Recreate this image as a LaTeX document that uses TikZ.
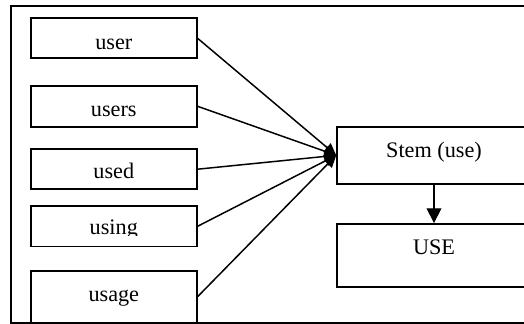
\documentclass[tikz,border=0pt]{standalone}
\usepackage{fontspec}
\setmainfont{Liberation Serif}
\usetikzlibrary{arrows.meta}

\begin{document}
\begin{tikzpicture}[x=0.54pt,y=-0.54pt,
    wordbox/.style={draw,line width=1pt,inner sep=0pt,minimum width=89.5pt},
    wordtext/.style={anchor=base,inner sep=0pt,font=\fontsize{12}{14}\selectfont},
    feed/.style={line width=0.8pt,-{Triangle[length=6.5pt,width=6pt]}}]
    \useasboundingbox (0,0) rectangle (524,324);
    % outer frame, open on the right
    \draw[line width=1pt] (524,5.7) -- (11,5.7) -- (11,322.7) -- (524,322.7);
    % word forms
    \node[wordbox,minimum height=21.6pt] (user) at (113.8,38.3) {};
    \node[wordbox,minimum height=22pt] (users) at (113.8,106.3) {};
    \node[wordbox,minimum height=21.8pt] (used) at (113.8,169.2) {};
    \node[wordbox,minimum height=21.8pt] (using) at (113.8,226.3) {};
    \node[wordbox,minimum height=28.1pt] (usage) at (113.8,296.7) {};
    \node[wordtext] (userlbl) at (113.8,49.3) {user};
    \node[wordtext] (userslbl) at (113.8,116.7) {users};
    \node[wordtext] (usedlbl) at (113.8,179) {used};
    \begin{scope}
        \clip (0,0) rectangle (524,235.5);
        \node[wordtext] (usinglbl) at (113.8,235) {using};
    \end{scope}
    \node[wordtext] (usagelbl) at (113.8,301.5) {usage};
    % stem and root
    \node[wordbox,minimum width=104.6pt,minimum height=30.9pt] (stem) at (434,155.3) {};
    \node[wordbox,minimum width=104.6pt,minimum height=33.8pt] (root) at (434,255.3) {};
    \node[wordtext] (stemlbl) at (434,158) {Stem (use)};
    \node[wordtext] (rootlbl) at (434,255) {USE};
    % connectors
    \draw[feed] (user.east) -- (stem.west);
    \draw[feed] (users.east) -- (stem.west);
    \draw[feed] (used.east) -- (stem.west);
    \draw[feed] (using.east) -- (stem.west);
    \draw[feed] (usage.east) -- (stem.west);
    \draw[line width=0.8pt,-{Triangle[length=8pt,width=8pt]}] (stem.south) -- (root.north);
\end{tikzpicture}
\end{document}
